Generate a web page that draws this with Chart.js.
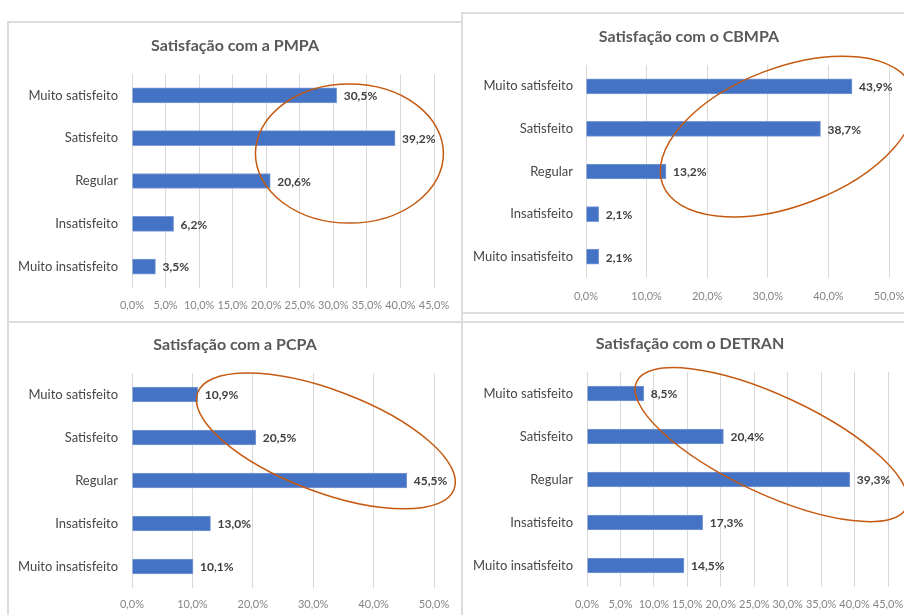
<!DOCTYPE html>
<html><head><meta charset="utf-8">
<script src="https://cdn.jsdelivr.net/npm/chart.js@4.4.0/dist/chart.umd.min.js"></script>
<style>
html,body{margin:0;padding:0;background:#fff;width:904px;height:615px;overflow:hidden;position:relative}
canvas{position:absolute}
.ln{position:absolute;background:#dcdcdc}
</style></head><body>
<div class="ln" style="left:7px;top:21px;width:2px;height:594px"></div>
<div class="ln" style="left:461px;top:12px;width:2px;height:603px"></div>
<div class="ln" style="left:7px;top:21px;width:456px;height:2px"></div>
<div class="ln" style="left:7px;top:321px;width:897px;height:2px"></div>
<div class="ln" style="left:461px;top:12px;width:443px;height:2px"></div>
<div class="ln" style="left:461px;top:312px;width:443px;height:2px"></div>
<canvas id="c1" width="454" height="300" style="left:8px;top:22px"></canvas>
<canvas id="c2" width="454" height="300" style="left:462px;top:13px"></canvas>
<canvas id="c3" width="454" height="293" style="left:8px;top:322px"></canvas>
<canvas id="c4" width="454" height="293" style="left:462px;top:322px"></canvas>
<script>
// ---- data ----
const categories = ['Muito satisfeito', 'Satisfeito', 'Regular', 'Insatisfeito', 'Muito insatisfeito'];
const titles = ['Satisfação com a PMPA', 'Satisfação com o CBMPA', 'Satisfação com a PCPA', 'Satisfação com o DETRAN'];
const pmpaValues   = [30.5, 39.2, 20.6, 6.2, 3.5];
const cbmpaValues  = [43.9, 38.7, 13.2, 2.1, 2.1];
const pcpaValues   = [10.9, 20.5, 45.5, 13.0, 10.1];
const detranValues = [8.5, 20.4, 39.3, 17.3, 14.5];
const axisMax  = [45, 50, 50, 45];
const axisStep = [5, 10, 10, 5];

// ---- layout / decoration (not data) ----
const layouts = [
  {tc:227, yw:124, right:28, tTop:14.4, tBot:18.4, xh:34, tickPad:10.4, labPad:14},
  {tc:227, yw:124, right:27, tTop:14.4, tBot:18.4, xh:35, tickPad:11.4, labPad:13},
  {tc:227, yw:124, right:28, tTop:13.4, tBot:18.4, xh:27, tickPad:9.4, labPad:14},
  {tc:228, yw:125, right:28, tTop:12.4, tBot:18.4, xh:28, tickPad:10.4, labPad:14}
];
// ellipse centres in data units (x value, category index), radii in px
const ellipses = [
  {x:32.4, y:1.36, rx:94,  ry:69.5, rot:0},
  {x:33.3, y:1.18, rx:134, ry:69,   rot:-21},
  {x:32.1, y:1.08, rx:137, ry:51,   rot:20.6},
  {x:27.6, y:1.19, rx:149, ry:49,   rot:25}
];

const fmt = v => Number(v).toFixed(1).replace('.', ',') + '%';
const FONT = 'Lato, Carlito, "Open Sans", sans-serif';

const valueLabels = {
  id: 'valueLabels',
  afterDatasetsDraw(chart) {
    const ctx = chart.ctx, meta = chart.getDatasetMeta(0), d = chart.data.datasets[0].data;
    ctx.save();
    ctx.font = 'bold 12px ' + FONT;
    ctx.fillStyle = '#404040';
    ctx.textBaseline = 'middle';
    ctx.textAlign = 'left';
    meta.data.forEach((bar, i) => ctx.fillText(fmt(d[i]), bar.x + 7, bar.y + 1));
    ctx.restore();
  }
};
const ellipseMark = {
  id: 'ellipseMark',
  afterDraw(chart, args, o) {
    if (!o || o.rx === undefined) return;
    const ctx = chart.ctx;
    const cx = chart.scales.x.getPixelForValue(o.x);
    const cy = chart.scales.y.getPixelForValue(o.y);
    ctx.save();
    ctx.beginPath();
    ctx.ellipse(cx, cy, o.rx, o.ry, o.rot * Math.PI / 180, 0, Math.PI * 2);
    ctx.strokeStyle = '#C55A11';
    ctx.lineWidth = 1.5;
    ctx.stroke();
    ctx.restore();
  }
};
// centre the title over the whole panel (Excel style), not only the padded box
const titleCentre = {
  id: 'titleCentre',
  afterLayout(chart, args, o) {
    const t = chart.titleBlock;
    if (t && o && o.c !== undefined) { t.left = 0; t.right = 2 * o.c; t.width = t.right; }
  }
};

function makeChart(id, idx, values) {
  const L = layouts[idx];
  return new Chart(document.getElementById(id), {
    type: 'bar',
    data: {
      labels: categories,
      datasets: [{ data: values, backgroundColor: '#4472C4', borderColor: '#7d9bd6', borderWidth: 1, barThickness: 15 }]
    },
    options: {
      indexAxis: 'y', responsive: false, animation: false, devicePixelRatio: 1,
      layout: { padding: { left: 0, right: L.right, top: 0, bottom: 0 } },
      plugins: {
        legend: { display: false }, tooltip: { enabled: false },
        title: { display: true, text: titles[idx], color: '#595959',
          font: { family: FONT, size: 16, weight: 'bold', lineHeight: 1.2 },
          padding: { top: L.tTop, bottom: L.tBot } },
        ellipseMark: ellipses[idx],
        titleCentre: { c: L.tc }
      },
      scales: {
        x: {
          min: 0, max: axisMax[idx],
          ticks: { stepSize: axisStep[idx], padding: L.tickPad, color: '#858585', font: { family: FONT, size: 11 }, callback: v => fmt(v), maxRotation: 0, autoSkip: false },
          grid: { color: '#d9d9d9', drawTicks: false, lineWidth: 1 },
          border: { display: false },
          afterFit: s => { s.height = L.xh; s.paddingLeft = 0; s.paddingRight = 0; }
        },
        y: {
          ticks: { padding: L.labPad, color: '#474747', font: { family: FONT, size: 13 } },
          grid: { display: false, drawTicks: false },
          border: { display: false },
          afterFit: s => { s.width = L.yw; s.paddingTop = 0; s.paddingBottom = 0; }
        }
      }
    },
    plugins: [valueLabels, ellipseMark, titleCentre]
  });
}

function drawAll() {
  makeChart('c1', 0, pmpaValues);
  makeChart('c2', 1, cbmpaValues);
  makeChart('c3', 2, pcpaValues);
  makeChart('c4', 3, detranValues);
}
if (document.fonts && document.fonts.load) {
  Promise.all([document.fonts.load('13px Lato'), document.fonts.load('bold 16px Lato')]).then(drawAll, drawAll);
} else drawAll();
</script>
</body></html>
